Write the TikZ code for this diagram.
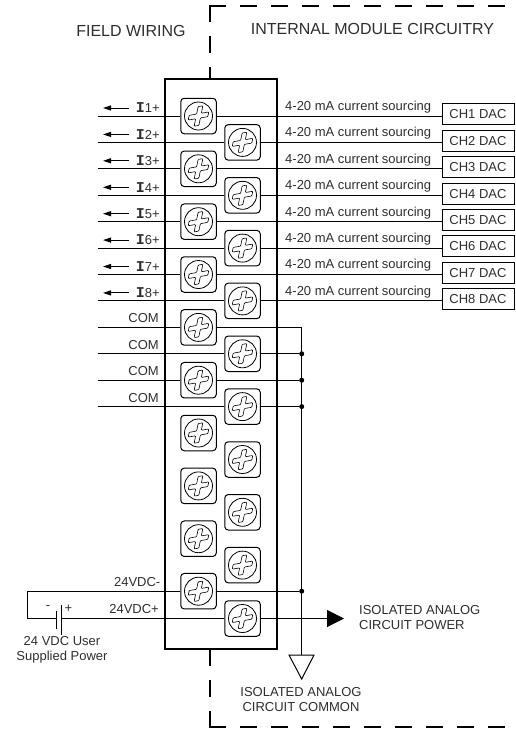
\documentclass[tikz,border=0pt]{standalone}
\usepackage{fontspec}
\setmainfont{Liberation Sans}
\setmonofont{Liberation Mono}
\usetikzlibrary{arrows.meta}
\tikzset{
	wire/.style={line width=1pt},
	heavy/.style={line width=1.7pt},
	dashline/.style={line width=1.7pt, line cap=rect, dash pattern=on 15pt off 16pt},
	sigarrow/.style={line width=1pt, -{Triangle[length=8pt,width=5pt]}},
	lbl/.style={font=\fontsize{13}{15}\selectfont, inner sep=0pt, text=black!82},
	heading/.style={font=\fontsize{16}{18}\selectfont, inner sep=0pt, text=black!82},
	termbox/.style={draw, fill=white, line width=1pt, rounded corners=3.5pt, minimum size=35.5pt, inner sep=0pt},
	screwhead/.style={line width=0.8pt},
	screwcross/.style={line width=0.6pt, rounded corners=0.8pt},
	chbox/.style={lbl, draw=black, line width=1pt, minimum width=72pt, minimum height=21pt},
	joint/.style={circle, fill=black, minimum size=5pt, inner sep=0pt},
}
\def\screwterm(#1)(#2,#3){
	\node[termbox] (#1) at (#2,#3) {};
	\draw[screwhead] (#1) circle (14);
	\begin{scope}[shift={(#1)}, x={(0.98pt,0.17pt)}, y={(0.2pt,0.98pt)}]
		\draw[screwcross] (-10,-2.4) -- (-2.4,-2.4) -- (-2.4,-10) -- (2.4,-10) -- (2.4,-2.4) -- (10,-2.4) -- (10,2.4) -- (2.4,2.4) -- (2.4,10) -- (-2.4,10) -- (-2.4,2.4) -- (-10,2.4) -- cycle;
	\end{scope}
}
\def\dacchan(#1)(#2,#3){
	\screwterm(t#1)(#2,#3)
	\coordinate (w#1) at (98,#3);
	\coordinate (a#1) at (103,#3-8);
	\node[lbl, anchor=east] (i#1) at (160,#3-8) {{\ttfamily\bfseries\fontsize{15}{15}\selectfont I}#1+};
	\draw[sigarrow] ([xshift=-7pt]i#1.west) -- (a#1);
	\draw[wire] (w#1) -- (t#1);
	\node[lbl, anchor=west] (s#1) at (285,#3-9) {4-20 mA current sourcing};
	\node[chbox] (ch#1) at (478,#3-1.7) {CH#1 DAC};
	\draw[wire] (t#1) -- (t#1 -| ch#1.west);
}
\def\comterm(#1)(#2,#3){
	\screwterm(t#1)(#2,#3)
	\coordinate (w#1) at (98,#3);
	\node[lbl, anchor=east] (c#1) at (159,#3-9) {COM};
	\draw[wire] (w#1) -- (t#1);
}

\begin{document}
\begin{tikzpicture}[x=1pt, y=-1pt]
	\useasboundingbox (0,0) rectangle (515,729);
	%%%%% MODULE BODY %%%%%
	\node[heavy, draw, minimum width=112pt, minimum height=570pt, inner sep=0pt] (body) at (221,364) {};
	
	\coordinate (topcorner) at (210,6);
	\coordinate (topend) at (515,6);
	\coordinate (botcorner) at (210,727);
	\coordinate (botend) at (515,727);
	\draw[dashline] (topcorner) -- (topcorner |- body.north);
	\draw[dashline] (topcorner) -- (topend);
	\draw[dashline] (botcorner) -- (botcorner |- body.south);
	\draw[dashline] (botcorner) -- (botend);
	
	\node[heading] (field) at (131,31) {FIELD WIRING};
	\node[heading] (internal) at (372.5,29) {INTERNAL MODULE CIRCUITRY};
	
	%%%%% OUTPUT CHANNELS %%%%%
	\dacchan(1)(198.5,116)
	\dacchan(2)(242.5,142.4)
	\dacchan(3)(198.5,168.8)
	\dacchan(4)(242.5,195.3)
	\dacchan(5)(198.5,221.7)
	\dacchan(6)(242.5,248.1)
	\dacchan(7)(198.5,274.5)
	\dacchan(8)(242.5,300.9)
	
	%%%%% COMMONS %%%%%
	\comterm(9)(198.5,327.4)
	\comterm(10)(242.5,353.8)
	\comterm(11)(198.5,380.2)
	\comterm(12)(242.5,406.6)
	
	\coordinate (railtop) at (301.7,327.4);
	\coordinate (gnd) at (301.7,655);
	\coordinate (gndl) at (289,655);
	\coordinate (gndr) at (314,655);
	\coordinate (gndtip) at (301.7,679);
	\draw[wire] (t9) -- (railtop) -- (gnd);
	\draw[wire] (gndl) -- (gndr) -- (gndtip) -- cycle;
	\node[joint] (d10) at (301.7,353.8) {};
	\node[joint] (d11) at (301.7,380.2) {};
	\node[joint] (d12) at (301.7,406.6) {};
	\draw[wire] (t10) -- (d10);
	\draw[wire] (t11) -- (d11);
	\draw[wire] (t12) -- (d12);
	
	%%%%% SPARE TERMINALS %%%%%
	\screwterm(t13)(198.5,433)
	\screwterm(t14)(242.5,459.5)
	\screwterm(t15)(198.5,485.9)
	\screwterm(t16)(242.5,512.3)
	\screwterm(t17)(198.5,538.7)
	\screwterm(t18)(242.5,565.1)
	
	%%%%% 24 VDC SUPPLY %%%%%
	\screwterm(t19)(198.5,591.2)
	\screwterm(t20)(242.5,618.5)
	\node[joint] (d19) at (301.7,591.2) {};
	\draw[wire] (t19) -- (d19);
	
	\coordinate (ret1) at (27,591.2);
	\coordinate (ret2) at (27,618.5);
	\coordinate (neg) at (56,618.5);
	\coordinate (negt) at (56,611);
	\coordinate (negb) at (56,629);
	\coordinate (pos) at (61,618.5);
	\coordinate (post) at (61,605);
	\coordinate (posb) at (61,635);
	\draw[wire] (t19) -- (ret1) -- (ret2) -- (neg);
	\draw[wire] (pos) -- (t20);
	\draw[wire] (negt) -- (negb);
	\draw[wire] (post) -- (posb);
	
	\coordinate (pwr) at (344,618.5);
	\draw[wire, -{Triangle[length=17pt,width=17pt]}] (t20) -- (pwr);
	
	\node[lbl, anchor=east] (vneg) at (160.5,582) {24VDC-};
	\node[lbl, anchor=east] (vpos) at (159,609) {24VDC+};
	\node[lbl] (minus) at (48,608) {-};
	\node[lbl] (plus) at (68.5,609) {+};
	\node[lbl, align=center] (user) at (62,650) {24 VDC User\\Supplied Power};
	\node[lbl, align=left, anchor=west] (pwrlabel) at (359,618) {ISOLATED ANALOG\\CIRCUIT POWER};
	\node[lbl, align=center] (gndlabel) at (301,700) {ISOLATED ANALOG\\CIRCUIT COMMON};
\end{tikzpicture}
\end{document}
